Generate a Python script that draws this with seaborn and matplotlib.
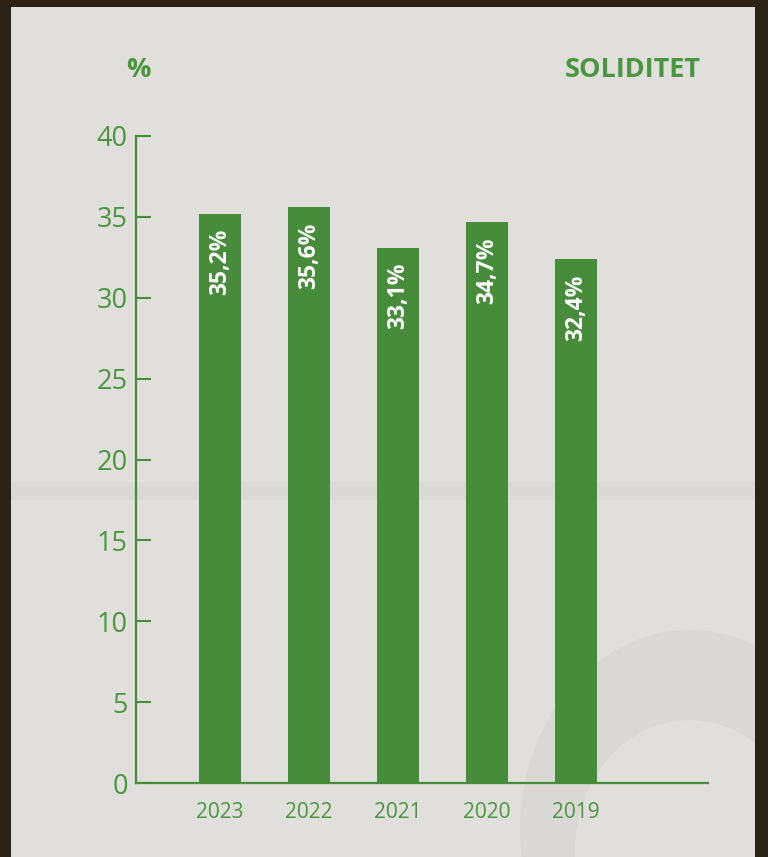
import matplotlib
matplotlib.use("Agg")
import matplotlib.pyplot as plt
from matplotlib.patches import Rectangle, Ellipse
import seaborn as sns
import pandas as pd

years = ["2023", "2022", "2021", "2020", "2019"]
solidity = [35.2, 35.6, 33.1, 34.7, 32.4]
value_labels = ["35,2%", "35,6%", "33,1%", "34,7%", "32,4%"]
y_ticks = [0, 5, 10, 15, 20, 25, 30, 35, 40]

BAR_GREEN = "#468C3B"
TEXT_GREEN = "#4A963F"
PANEL = "#e0dfdc"

sns.set_theme(style="white")
plt.rcParams["font.family"] = ["Open Sans", "DejaVu Sans"]

fig = plt.figure(figsize=(7.68, 8.57), dpi=100)
fig.patch.set_facecolor("#2a2316")

# light panel behind the chart
panel = Rectangle((11 / 768, 0), (755 - 11) / 768, 1 - 7 / 857,
                  transform=fig.transFigure, facecolor=PANEL,
                  edgecolor="none", zorder=-3)
fig.patches.append(panel)
# faint decorative shapes in the panel
band = Rectangle((11 / 768, 1 - 500 / 857), (755 - 11) / 768, 18 / 857,
                 transform=fig.transFigure, facecolor="#dad9d6",
                 edgecolor="none", zorder=-2)
ring = Ellipse((690 / 768, 1 - 830 / 857), 340 / 768, 400 / 857,
               transform=fig.transFigure, facecolor="#d9d8d5",
               edgecolor="none", zorder=-2)
hole = Ellipse((690 / 768, 1 - 850 / 857), 230 / 768, 260 / 857,
               transform=fig.transFigure, facecolor=PANEL,
               edgecolor="none", zorder=-2)
for p in (band, ring, hole):
    p.set_clip_path(panel)
    fig.patches.append(p)

ax = fig.add_axes([136 / 768, 1 - 783 / 857, (708 - 136) / 768, (783 - 136) / 857])
ax.patch.set_alpha(0)
ax.set_zorder(1)

df = pd.DataFrame({"year": years, "solidity": solidity})
sns.barplot(data=df, x="year", y="solidity", order=years, color=BAR_GREEN,
            saturation=1, width=0.47, linewidth=0, edgecolor="none", ax=ax)

for i, (v, lab) in enumerate(zip(solidity, value_labels)):
    ax.annotate(lab, xy=(i, v), xytext=(0, -11), textcoords="offset points",
                ha="center", va="top", rotation=90, color="white",
                fontsize=16.5, fontweight="bold")

ax.set_ylim(0, 40)
ax.set_xlim(-0.944, 5.48)
ax.set_yticks(y_ticks)
ax.set_yticklabels([str(t) for t in y_ticks])
ax.set_xlabel("")
ax.set_ylabel("")

for side in ["top", "right"]:
    ax.spines[side].set_visible(False)
for side in ["left", "bottom"]:
    ax.spines[side].set_color(BAR_GREEN)
    ax.spines[side].set_linewidth(1.6)

ax.tick_params(axis="y", direction="in", length=11, width=1.5, color=BAR_GREEN,
               labelsize=19.5, labelcolor=TEXT_GREEN, pad=6, left=True)
ax.tick_params(axis="x", length=0, labelsize=15, labelcolor=TEXT_GREEN, pad=14)

fig.text(138 / 768, 1 - 70 / 857, "%", ha="center", va="center",
         color=TEXT_GREEN, fontsize=19.5, fontweight="bold")
fig.text(701 / 768, 1 - 70 / 857, "SOLIDITET", ha="right", va="center",
         color=TEXT_GREEN, fontsize=19.5, fontweight="bold")

fig.savefig("out.png", dpi=100, facecolor=fig.get_facecolor())
